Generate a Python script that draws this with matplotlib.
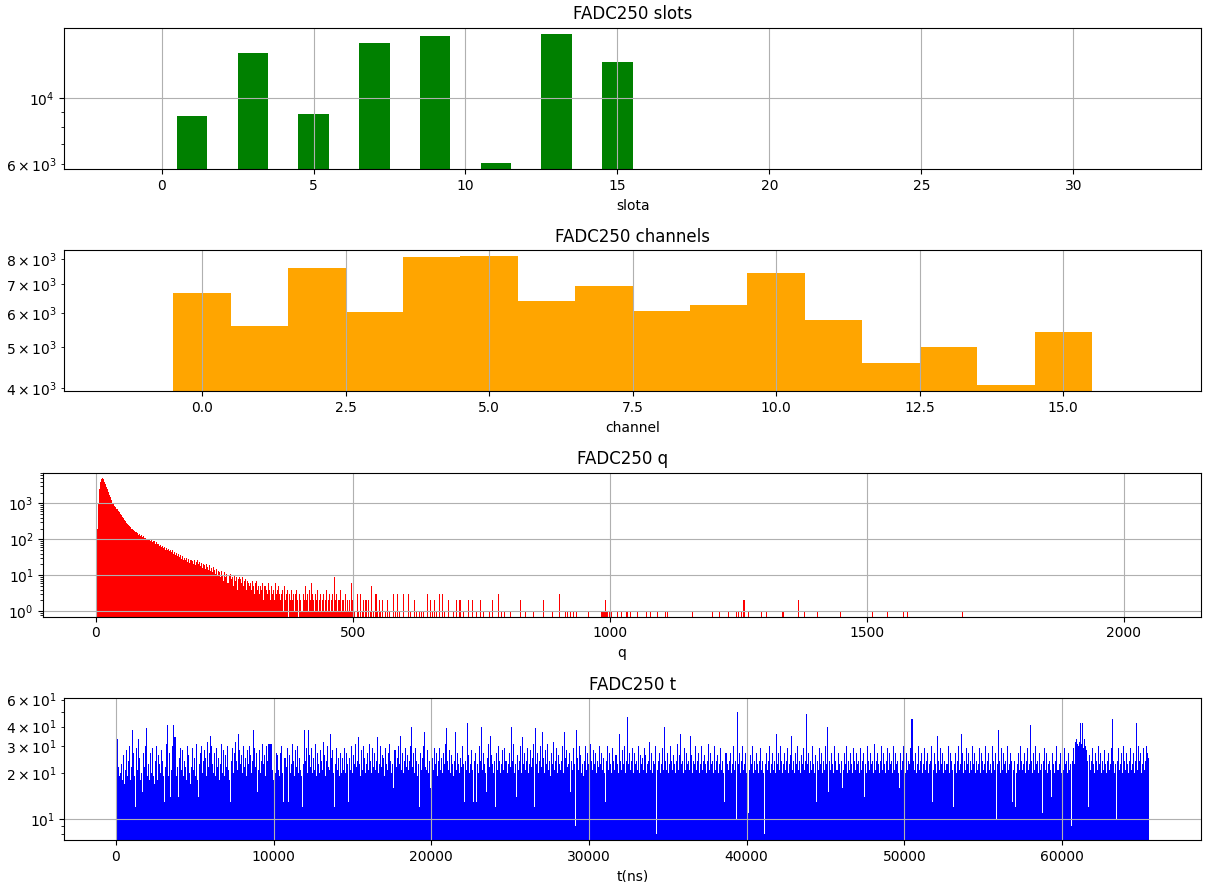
import numpy as np
import matplotlib
matplotlib.use("Agg")
import matplotlib.pyplot as plt

# ---------------- data ----------------
slot_numbers = [1, 3, 5, 7, 9, 11, 13, 15]
slot_counts = [8740, 14230, 8855, 15380, 16150, 6060, 16400, 13210]

channel_numbers = list(range(16))
channel_counts = [6664, 5605, 7648, 6032, 8090, 8130, 6385, 6918,
                  6048, 6246, 7420, 5763, 4571, 5005, 4081, 5403]

# q histogram, bins of width 2 starting at q=0 (dense part)
q_dense = [
    60, 200, 1000, 2600, 4000, 4700, 5100, 4800, 3900, 3400,
    2900, 2500, 2100, 1750, 1500, 1250, 1050, 950, 870, 780,
    705, 630, 570, 505, 475, 415, 395, 345, 325, 285,
    270, 250, 235, 218, 200, 190, 178, 170, 162, 155,
    148, 136, 145, 126, 131, 115, 124, 110, 112, 101,
    103, 94, 96, 88, 97, 84, 90, 76, 83, 72,
    75, 66, 71, 60, 64, 58, 61, 52, 58, 50,
    53, 46, 49, 43, 50, 40, 45, 37, 42, 35,
    38, 33, 36, 29, 35, 27, 31, 26, 30, 24,
    29, 22, 27, 25, 21, 26, 19, 24, 27, 20,
    23, 18, 22, 16, 21, 19, 15, 20, 17, 14,
    19, 13, 16, 12, 17, 14, 11, 15, 10, 13,
    12, 9, 13, 10, 7, 12, 9, 11, 6, 10,
    11, 8, 9, 5, 10, 7, 9, 4, 8, 9,
    8, 6, 9, 5, 7, 8, 4, 7, 6, 5,
    6, 4, 7, 5, 3, 6, 7, 4, 5, 3,
    5, 4, 6, 2, 5, 4, 3, 6, 4, 2,
    5, 3, 4, 2, 6, 3, 4, 5, 3, 2,
    3, 4, 1, 5, 2, 3, 4, 0, 3, 2,
    4, 2, 3, 1, 3, 4, 2, 0, 3, 2,
    1, 3, 2, 5, 2, 3, 1, 4, 2, 6,
    3, 2, 1, 3, 2, 4, 1, 2, 3, 1,
    2, 3, 1, 2, 4, 1, 2, 3, 1, 2,
    3, 1, 9, 2, 3, 1, 2, 4, 1, 2,
    2, 1, 3, 1, 2, 1, 2, 1, 6, 2,
]
# sparse tail of q: positions and counts
q_tail_pos = [503, 508, 511, 515, 518, 520, 524, 527, 531, 534, 537, 541, 544, 547,
              550, 553, 557, 562, 567, 571, 578, 582, 586, 591, 599, 608, 613, 619,
              623, 628, 633, 637, 645, 650, 654, 658, 662, 668, 674, 678, 686, 695,
              701, 706, 708, 714, 724, 732, 740, 748, 754, 765, 770, 782, 789, 795,
              807, 826, 834, 850, 870, 889, 902, 912, 917, 922, 928, 934, 959, 983,
              984, 987, 989, 991, 993, 995, 999, 1003, 1014, 1022, 1033, 1035, 1040,
              1053, 1070, 1078, 1092, 1108, 1113, 1161, 1198, 1213, 1230, 1247, 1250,
              1257, 1260, 1262, 1269, 1294, 1304, 1337, 1366, 1378, 1405, 1449, 1510,
              1541, 1570, 1579, 1686]
q_tail_cnt = [1, 3, 1, 3, 1, 2, 2, 2, 2, 1, 5, 1, 3, 1,
              2, 1, 2, 1, 2, 1, 3, 1, 3, 1, 3, 3, 1, 2,
              1, 1, 1, 1, 3, 2, 1, 2, 1, 3, 3, 1, 2, 1,
              2, 2, 2, 1, 2, 2, 1, 2, 1, 1, 2, 3, 1, 1,
              1, 2, 1, 1, 2, 1, 3, 1, 1, 1, 1, 1, 1, 1,
              1, 1, 1, 2, 1, 1, 1, 1, 1, 1, 1, 1, 1,
              1, 1, 1, 1, 1, 1, 1, 1, 1, 1, 1, 1,
              1, 2, 2, 1, 1, 1, 1, 2, 1, 1, 1, 1,
              1, 1, 1, 1]

# t histogram counts (bins spanning 0..65536 ns)
t_counts = [
    14,33,22,19,20,23,18,26,17,21,28,19,24,30,18,22,38,27,19,12,29,21,33,25,18,20,15,27,22,30,39,19,
    23,18,27,20,29,19,17,24,30,18,26,23,20,28,24,19,13,22,31,41,19,27,14,21,30,41,34,19,22,14,25,29,
    21,28,19,24,22,18,30,26,20,17,22,29,21,25,19,31,18,14,23,27,30,20,24,28,25,19,32,22,27,35,30,23,
    20,27,19,29,22,25,18,23,31,20,28,19,26,22,30,21,18,13,24,29,20,27,32,24,21,36,28,23,26,20,30,22,
    25,19,28,23,30,26,20,24,38,29,22,27,15,21,28,20,24,31,23,26,19,30,24,31,31,31,31,21,18,25,20,27,
    26,21,19,27,30,20,13,25,22,29,13,26,20,23,31,24,19,28,22,30,20,25,21,19,12,23,38,24,29,20,38,26,
    22,29,20,25,21,31,19,27,23,20,28,24,21,32,26,19,24,30,22,21,36,25,28,20,12,23,29,21,25,19,27,20,
    25,21,29,20,27,23,13,25,21,30,20,26,23,31,22,24,34,23,19,28,21,30,25,20,23,27,21,31,24,20,29,22,
    27,21,24,34,20,23,30,22,26,25,19,29,23,21,27,31,24,20,23,16,28,22,25,30,23,35,21,27,20,24,29,22,
    26,21,24,30,40,22,27,20,29,24,19,23,12,27,21,25,30,37,22,21,28,20,24,16,31,25,21,29,23,27,19,24,
    29,21,25,20,27,23,31,39,24,21,28,20,26,23,19,24,37,21,27,23,20,25,22,30,23,13,24,21,42,26,20,23,
    28,21,13,24,27,13,23,20,30,24,40,21,27,23,20,15,25,31,22,35,26,23,20,24,12,27,21,30,24,20,23,28,
    21,29,24,20,23,27,22,40,24,31,20,23,14,26,21,24,30,20,34,23,27,21,24,29,20,23,28,22,25,31,12,39,
    23,27,20,24,30,22,37,25,20,28,23,31,21,24,19,27,23,32,21,24,29,20,26,23,21,24,30,20,37,25,28,22,
    23,27,15,24,21,29,23,9,38,25,21,30,26,20,23,19,24,30,21,27,23,20,31,24,21,28,23,27,20,24,22,30,
    23,27,21,25,20,13,24,30,21,27,23,20,29,24,21,26,23,20,36,24,21,28,23,30,20,24,46,23,27,21,24,29,
    20,27,23,24,21,30,20,26,23,25,21,29,26,20,23,24,32,21,27,20,24,23,30,8,21,24,27,20,23,29,21,40,
    24,21,27,20,23,30,24,21,26,23,20,24,31,21,26,36,23,24,20,29,21,27,23,24,21,35,26,20,24,23,30,21,
    24,27,20,23,30,21,24,26,23,20,24,31,21,27,23,24,20,30,21,24,26,20,23,29,21,24,20,13,27,23,21,24,
    27,20,23,30,21,24,10,50,23,27,20,24,30,21,23,27,20,24,11,21,26,23,30,20,24,21,27,23,20,24,29,21,
    24,20,8,23,27,21,24,30,20,23,27,21,24,20,36,23,27,21,30,24,20,23,27,21,24,29,20,23,26,35,21,24,
    20,27,23,30,21,24,20,26,23,29,21,24,48,23,27,20,24,21,30,23,20,26,13,24,21,29,23,27,20,24,21,30,
    23,40,15,24,21,27,23,20,30,24,21,27,23,20,24,16,21,27,23,30,20,24,21,27,23,20,29,24,21,27,23,24,
    20,29,21,24,27,14,23,20,30,24,21,27,23,24,20,31,21,24,27,23,20,24,30,21,27,23,20,24,29,21,27,23,
    24,20,30,21,27,23,24,20,16,27,21,24,30,23,20,27,21,24,23,29,45,45,24,21,27,20,23,30,21,24,27,20,
    23,29,21,24,27,20,23,24,30,13,21,27,23,20,35,24,21,29,23,27,20,24,21,23,30,20,27,24,21,12,23,27,
    20,24,30,21,23,36,27,20,24,21,29,23,27,20,24,21,30,23,27,20,24,21,23,29,20,27,24,21,23,30,20,24,
    27,21,23,20,30,24,21,27,10,23,38,24,20,29,21,27,23,24,20,30,21,23,27,24,13,21,24,12,20,23,27,21,
    30,24,21,23,27,20,24,29,21,23,41,24,20,27,21,30,23,24,20,27,21,23,11,24,29,21,27,20,23,24,21,14,
    27,23,20,24,30,21,23,27,20,24,21,29,23,24,20,27,21,23,9,24,29,23,32,33,31,30,32,42,31,42,29,33,
    30,28,24,12,26,21,24,29,23,20,27,24,21,30,23,27,20,24,21,28,23,20,24,27,21,23,29,45,24,20,23,10,
    24,29,21,23,27,20,30,24,21,27,23,20,24,29,21,23,27,20,24,42,21,30,24,27,20,23,29,21,24,30,27,25,
]

# ---------------- figure ----------------
plt.rcParams['font.size'] = 10
fig = plt.figure(figsize=(12.06, 8.82), dpi=100)

W, H = 1206.0, 882.0
def axes_px(left, top, right, bottom):
    return fig.add_axes([left / W, 1 - bottom / H, (right - left) / W, (bottom - top) / H])

ax1 = axes_px(64.3, 27.7, 1201, 169.3)
ax2 = axes_px(64.3, 250.0, 1201, 391.3)
ax3 = axes_px(43.3, 472.7, 1201, 616.5)
ax4 = axes_px(64.3, 698.3, 1201, 840.0)

# slots
ax1.hist(slot_numbers, bins=np.arange(-1.5, 33.5, 1), weights=slot_counts,
         log=True, color='green')
ax1.set_ylim(5772, 17269)
ax1.set_title('FADC250 slots')
ax1.set_xlabel('slota')
ax1.grid(True)

# channels
ax2.hist(channel_numbers, bins=np.arange(-1.5, 17.5, 1), weights=channel_counts,
         log=True, color='orange')
ax2.set_ylim(3936, 8409)
ax2.set_title('FADC250 channels')
ax2.set_xlabel('channel')
ax2.grid(True)

# q
q_edges = np.arange(0, 2050, 2)
q_x = list(np.arange(len(q_dense)) * 2 + 1) + [p + 0.5 for p in q_tail_pos]
q_w = list(q_dense) + list(q_tail_cnt)
ax3.hist(q_x, bins=q_edges, weights=q_w, log=True, color='red')
ax3.set_ylim(0.71, 7160)
ax3.set_title('FADC250 q')
ax3.set_xlabel('q')
ax3.grid(True)

# t
t_edges = np.linspace(0, 65536, len(t_counts) + 1)
t_x = 0.5 * (t_edges[:-1] + t_edges[1:])
ax4.hist(t_x, bins=t_edges, weights=t_counts, log=True, color='blue')
ax4.set_ylim(7.34, 61.1)
ax4.set_title('FADC250 t')
ax4.set_xlabel('t(ns)')
ax4.grid(True)

fig.savefig('out.png', dpi=100)
